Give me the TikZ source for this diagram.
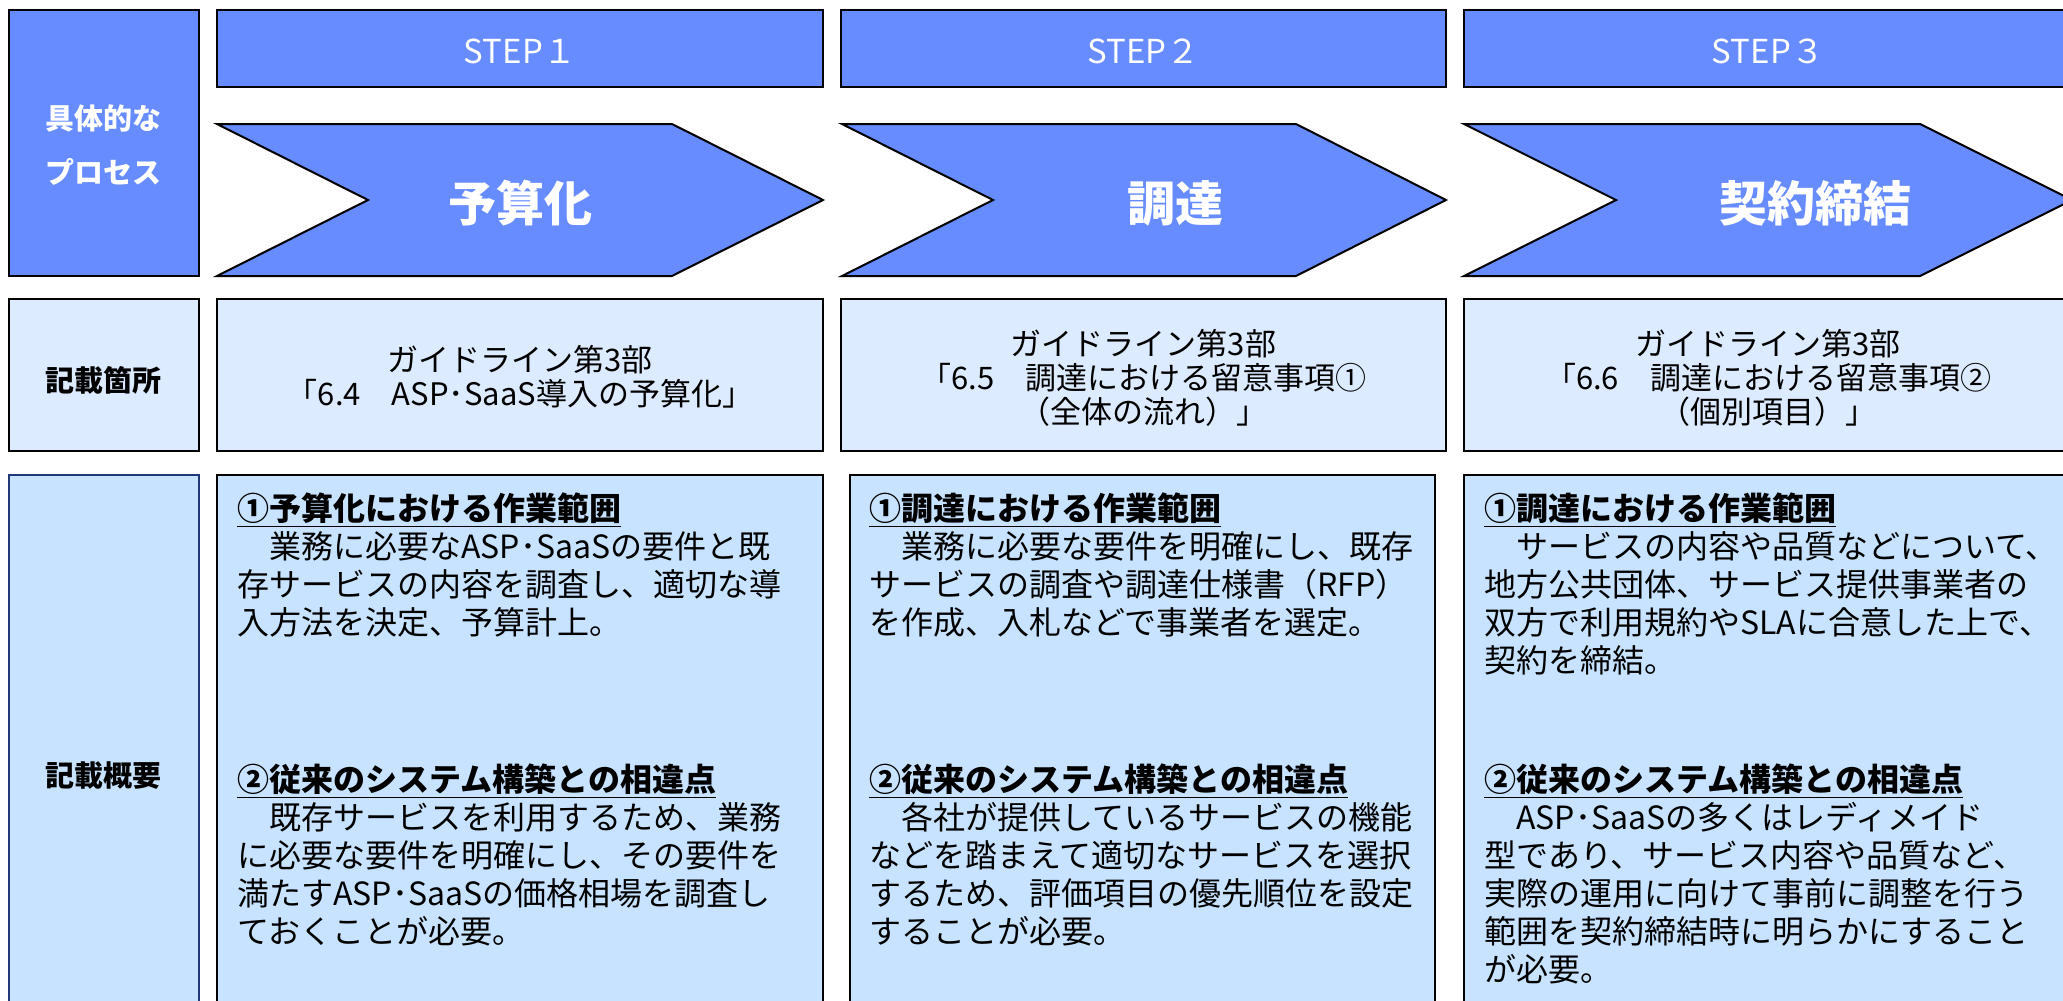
\documentclass[tikz,border=0pt]{standalone}
\usepackage{fontspec}
\setmainfont{Noto Sans CJK JP}
\definecolor{hdrblue}{RGB}{102,140,255}
\definecolor{rowtwo}{RGB}{220,235,255}
\definecolor{rowthree}{RGB}{199,227,255}
\definecolor{navyline}{RGB}{32,56,120}
\tikzset{
  hdrbox/.style={fill=hdrblue,draw=black,line width=1pt},
  lightbox/.style={fill=rowtwo,draw=black,line width=1pt},
  descbox/.style={fill=rowthree,draw=black,line width=1pt},
  steplabel/.style={text=white,inner sep=0,font=\fontsize{16.5}{18}\selectfont},
  chevlabel/.style={text=white,inner sep=0,font=\bfseries\fontsize{24}{26}\selectfont},
  sidelabel/.style={inner sep=0,align=center,font=\bfseries\fontsize{14.5}{27}\selectfont},
  reflabel/.style={inner sep=0,align=center,font=\fontsize{15.5}{17}\selectfont},
  bodytext/.style={inner sep=0,anchor=north west,align=left,font=\fontsize{16}{19}\selectfont}
}
\newcommand{\hd}[1]{\underline{\bfseries #1}}
\newcommand{\fs}{\rule{0pt}{15pt}}
\begin{document}
\begin{tikzpicture}[x=0.5pt,y=-0.5pt]
\useasboundingbox (0,0) rectangle (2063,1001);
\clip (0,0) rectangle (2063,1001);
% left column
\draw[hdrbox] (9,10) rectangle (199,276);
\draw[lightbox] (9,299) rectangle (199,451);
\draw[fill=rowthree,draw=navyline,line width=1pt] (9,475) rectangle (199,1013);
\node[sidelabel,text=white,font=\bfseries\fontsize{14.5}{27}\selectfont] (proc) at (104,145) {具体的な\\プロセス};
\node[sidelabel] (loc) at (104,380) {記載箇所};
\node[sidelabel] (summ) at (104,776) {記載概要};
% step headers
\draw[hdrbox] (217,10) rectangle (823,87);
\draw[hdrbox] (841,10) rectangle (1446,87);
\draw[hdrbox] (1464,10) rectangle (2072,87);
\node[steplabel] (s1) at (520,51) {STEP１};
\node[steplabel] (s2) at (1143.5,51) {STEP２};
\node[steplabel] (s3) at (1768,51) {STEP３};
% chevrons
\draw[hdrbox] (217,124) -- (672,124) -- (823,200) -- (672,276) -- (217,276) -- (368,200) -- cycle;
\draw[hdrbox] (842,124) -- (1296,124) -- (1446,200) -- (1296,276) -- (842,276) -- (993,200) -- cycle;
\draw[hdrbox] (1464,124) -- (1920,124) -- (2072,200) -- (1920,276) -- (1464,276) -- (1616,200) -- cycle;
\node[chevlabel] (c1) at (520,203) {予算化};
\node[chevlabel] (c2) at (1175,203) {調達};
\node[chevlabel] (c3) at (1815,203) {契約締結};
% row 2
\draw[lightbox] (217,299) rectangle (823,451);
\draw[lightbox] (841,299) rectangle (1446,451);
\draw[lightbox] (1464,299) rectangle (2072,451);
\node[reflabel] (r1) at (520,377) {ガイドライン第3部\\「6.4　ASP･SaaS導入の予算化」};
\node[reflabel] (r2) at (1143.5,378) {ガイドライン第3部\\「6.5　調達における留意事項①\\（全体の流れ）」};
\node[reflabel] (r3) at (1768,378) {ガイドライン第3部\\「6.6　調達における留意事項②\\（個別項目）」};
% row 3
\draw[descbox] (217,475) rectangle (823,1013);
\draw[descbox] (850,475) rectangle (1435,1013);
\draw[descbox] (1464,475) rectangle (2072,1013);
\node[bodytext] (a1) at (237,490) {\fs\hd{①予算化における作業範囲}\\　業務に必要なASP･SaaSの要件と既\\存サービスの内容を調査し、適切な導\\入方法を決定、予算計上。};
\node[bodytext] (b1) at (237,761) {\fs\hd{②従来のシステム構築との相違点}\\　既存サービスを利用するため、業務\\に必要な要件を明確にし、その要件を\\満たすASP･SaaSの価格相場を調査し\\ておくことが必要。};
\node[bodytext] (a2) at (869,490) {\fs\hd{①調達における作業範囲}\\　業務に必要な要件を明確にし、既存\\サービスの調査や調達仕様書（RFP）\\を作成、入札などで事業者を選定。};
\node[bodytext] (b2) at (869,761) {\fs\hd{②従来のシステム構築との相違点}\\　各社が提供しているサービスの機能\\などを踏まえて適切なサービスを選択\\するため、評価項目の優先順位を設定\\することが必要。};
\node[bodytext] (a3) at (1484,490) {\fs\hd{①調達における作業範囲}\\　サービスの内容や品質などについて、\\地方公共団体、サービス提供事業者の\\双方で利用規約やSLAに合意した上で、\\契約を締結。};
\node[bodytext] (b3) at (1484,761) {\fs\hd{②従来のシステム構築との相違点}\\　ASP･SaaSの多くはレディメイド\\型であり、サービス内容や品質など、\\実際の運用に向けて事前に調整を行う\\範囲を契約締結時に明らかにすること\\が必要。};
\end{tikzpicture}
\end{document}
